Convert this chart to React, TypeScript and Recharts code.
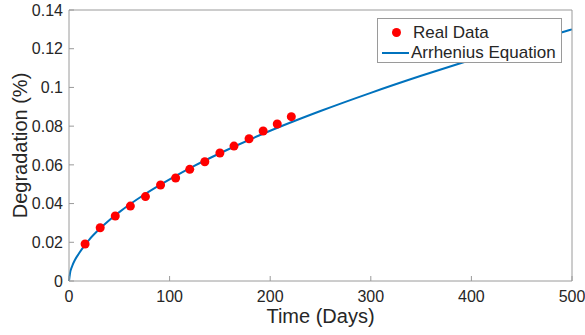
import { ComposedChart, Line, Scatter, XAxis, YAxis } from 'recharts';

// measured points (days, % degradation)
const realDays = [16, 31, 46, 61, 76, 91, 106, 120, 135, 150, 164, 179, 193, 207, 221];
const realValues = [0.0191, 0.0275, 0.0336, 0.0387, 0.0436, 0.0496, 0.0532, 0.0577, 0.0616, 0.0661, 0.0697, 0.0735, 0.0775, 0.0811, 0.0849];

// fitted curve
const fitDays = [0, 1, 3, 6, 10, 15, 20, 30, 40, 50, 75, 100, 125, 150, 200, 250, 300, 350, 400, 450, 500];
const fitValues = [0, 0.004, 0.0075, 0.011, 0.0143, 0.018, 0.0213, 0.0267, 0.0314, 0.0356, 0.0447, 0.0525, 0.0596, 0.066, 0.0776, 0.0878, 0.0972, 0.106, 0.1143, 0.1222, 0.13];

const xTicks = [0, 100, 200, 300, 400, 500];
const yTicks = [0, 0.02, 0.04, 0.06, 0.08, 0.1, 0.12, 0.14];

const realData = realDays.map((d, i) => ({ x: d, y: realValues[i] }));
const fitData = fitDays.map((d, i) => ({ x: d, y: fitValues[i] }));

const axisColor = '#9a9a9a';
const textColor = '#262626';
const font = '"Liberation Sans", Arial, sans-serif';

export default function App() {
  return (
    <div style={{ position: 'absolute', left: 0, top: 0, width: 585, height: 335, background: '#fff', fontFamily: font }}>
      <ComposedChart width={585} height={335} margin={{ top: 9, right: 12, bottom: 0, left: 0 }}>
        <XAxis
          xAxisId="b"
          dataKey="x"
          type="number"
          domain={[0, 500]}
          ticks={xTicks}
          height={54}
          stroke={axisColor}
          tickSize={-5}
          tickMargin={15}
          tick={{ fill: textColor, fontSize: 16, fontFamily: font }}
          label={{ value: 'Time (Days)', position: 'insideBottom', offset: 12, fill: textColor, fontSize: 20, fontFamily: font }}
        />
        <XAxis
          xAxisId="t"
          orientation="top"
          dataKey="x"
          type="number"
          domain={[0, 500]}
          ticks={xTicks}
          height={1}
          stroke={axisColor}
          tickSize={-5}
          tick={false}
        />
        <YAxis
          yAxisId="l"
          type="number"
          domain={[0, 0.14]}
          ticks={yTicks}
          width={69}
          stroke={axisColor}
          tickSize={-5}
          tickMargin={11}
          tick={{ fill: textColor, fontSize: 16, fontFamily: font }}
          label={{ value: 'Degradation (%)', angle: -90, position: 'insideLeft', offset: 20, fill: textColor, fontSize: 20, fontFamily: font, style: { textAnchor: 'middle' } }}
        />
        <YAxis
          yAxisId="r"
          orientation="right"
          type="number"
          domain={[0, 0.14]}
          ticks={yTicks}
          width={1}
          stroke={axisColor}
          tickSize={-5}
          tick={false}
        />
        <Line
          xAxisId="b"
          yAxisId="l"
          data={fitData}
          dataKey="y"
          type="monotone"
          stroke="#0072BD"
          strokeWidth={2}
          dot={false}
          isAnimationActive={false}
        />
        <Scatter
          xAxisId="b"
          yAxisId="l"
          data={realData}
          dataKey="y"
          fill="#ff0000"
          shape={(p: any) => <circle cx={p.cx} cy={p.cy} r={4.5} fill="#ff0000" />}
          isAnimationActive={false}
        />
      </ComposedChart>
      <div
        style={{
          position: 'absolute',
          left: 377,
          top: 18,
          width: 183,
          height: 43,
          border: `1px solid ${axisColor}`,
          background: '#fff',
          color: textColor,
          fontSize: 17,
          lineHeight: '21px',
        }}
      >
        <div style={{ position: 'absolute', left: 14, top: 3, display: 'flex', alignItems: 'center' }}>
          <span style={{ display: 'inline-block', width: 9, height: 9, borderRadius: '50%', background: '#ff0000', marginRight: 12 }} />
          <span>Real Data</span>
        </div>
        <div style={{ position: 'absolute', left: 4, top: 23, display: 'flex', alignItems: 'center' }}>
          <span style={{ display: 'inline-block', width: 27, height: 2, background: '#0072BD', marginRight: 2 }} />
          <span>Arrhenius Equation</span>
        </div>
      </div>
    </div>
  );
}
